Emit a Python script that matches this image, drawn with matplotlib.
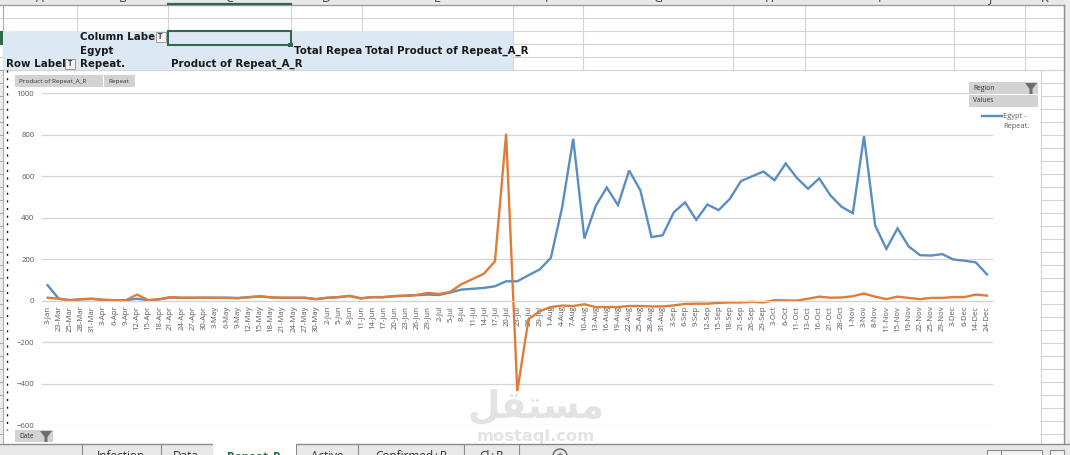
import matplotlib
matplotlib.use("Agg")
from matplotlib import pyplot as plt
from matplotlib.patches import Rectangle, Polygon, Circle

plt.rcParams['font.family'] = ['Open Sans', 'DejaVu Sans']

#chart data
dates = ["3-Jan", "23-Mar", "25-Mar", "28-Mar", "31-Mar", "3-Apr", "6-Apr", "9-Apr", "12-Apr", "15-Apr",
         "18-Apr", "21-Apr", "24-Apr", "27-Apr", "30-Apr", "3-May", "6-May", "9-May", "12-May", "15-May",
         "18-May", "21-May", "24-May", "27-May", "30-May", "2-Jun", "5-Jun", "8-Jun", "11-Jun", "14-Jun",
         "17-Jun", "20-Jun", "23-Jun", "26-Jun", "29-Jun", "2-Jul", "5-Jul", "8-Jul", "11-Jul", "14-Jul",
         "17-Jul", "20-Jul", "23-Jul", "26-Jul", "29-Jul", "1-Aug", "4-Aug", "7-Aug", "10-Aug", "13-Aug",
         "16-Aug", "19-Aug", "22-Aug", "25-Aug", "28-Aug", "31-Aug", "3-Sep", "6-Sep", "9-Sep", "12-Sep",
         "15-Sep", "18-Sep", "21-Sep", "26-Sep", "29-Sep", "3-Oct", "6-Oct", "11-Oct", "13-Oct", "16-Oct",
         "21-Oct", "28-Oct", "1-Nov", "3-Nov", "8-Nov", "11-Nov", "15-Nov", "19-Nov", "22-Nov", "25-Nov",
         "29-Nov", "3-Dec", "6-Dec", "14-Dec", "24-Dec"]

repeat = [75, 10, 3, 7, 9, 4, 3, 3, 10, 3,
          7, 16, 14, 14, 15, 15, 15, 13, 17, 21,
          16, 14, 14, 14, 8, 14, 17, 23, 12, 17,
          17, 22, 24, 27, 30, 28, 40, 54, 58, 62,
          70, 94, 94, 123, 151, 207, 448, 781, 300, 456,
          546, 461, 628, 533, 307, 316, 427, 474, 390, 464,
          437, 491, 577, 600, 623, 581, 662, 592, 540, 590,
          508, 453, 422, 793, 363, 250, 349, 262, 220, 218,
          225, 199, 193, 185, 127]

product = [15, 10, 3, 8, 10, 5, 3, 3, 30, 3,
           8, 18, 15, 15, 15, 14, 14, 13, 18, 22,
           17, 15, 15, 15, 8, 15, 18, 24, 12, 18,
           18, 23, 25, 28, 38, 33, 43, 80, 105, 130,
           190, 805, -435, -90, -50, -30, -23, -25, -17, -30,
           -30, -30, -25, -25, -27, -27, -22, -15, -14, -14,
           -10, -8, -8, -5, -8, 3, 2, 1, 10, 20,
           15, 16, 22, 35, 20, 8, 20, 14, 8, 14,
           14, 18, 18, 30, 25]

y_ticks = [-600, -400, -200, 0, 200, 400, 600, 800, 1000]

#column letters and where the sheet columns start
col_letters = ["A", "B", "C", "D", "E", "F", "G", "H", "I", "J", "K"]
col_edges = [3, 77, 168, 291, 362, 513, 583, 733, 805, 954, 1025, 1064]

W, H = 1070, 455
GRID = "#d4d4d4"
fig = plt.figure(figsize=(W/100, H/100), dpi=100, facecolor="white")

#whole figure axes in pixels for the excel window around the chart
bg = fig.add_axes([0, 0, 1, 1], zorder=0)
bg.set_xlim(0, W)
bg.set_ylim(H, 0)
bg.axis("off")

def rect(ax, x0, y0, x1, y1, color, **kw):
    ax.add_patch(Rectangle((x0, y0), x1-x0, y1-y0, facecolor=color, edgecolor=kw.pop("ec", "none"), **kw))

def funnel(ax, x, y):
    ax.add_patch(Polygon([(x-6, y-5), (x+6, y-5), (x+1.5, y+1), (x+1.5, y+6), (x-1.5, y+6), (x-1.5, y+1)],
                         facecolor="#6e6e6e", edgecolor="none"))

def button(ax, x0, y0, x1, y1, label, size=5):
    rect(ax, x0, y0, x1, y1, "#d2d2d2")
    ax.text(x0+4, (y0+y1)/2, label, fontsize=size, color="#303030", va="center", ha="left")

#sheet cells
for k in range(6):
    y = 4.5 + 13*k
    bg.plot([0, 1064], [y, y], color=GRID, lw=0.8)
for x in col_edges:
    bg.plot([x, x], [4.5, 70], color=GRID, lw=0.8)
rect(bg, 3, 31, 513, 70, "#dce9f5", zorder=2.5)

#column header strip
rect(bg, 0, 0, 1070, 4.5, "#e8e8e8")
bg.plot([0, 1064], [4.5, 4.5], color="#9a9a9a", lw=0.9)
bg.plot([168, 291], [4, 4], color="#2f6b4a", lw=1.6)
for i in range(len(col_letters)):
    bg.text((col_edges[i]+col_edges[i+1])/2, -2, col_letters[i], fontsize=9, color="#404040", ha="center", va="center")

#selected cell
bg.add_patch(Rectangle((168, 31), 123, 14, facecolor="none", edgecolor="#2f6b4a", lw=1.5, zorder=3))
rect(bg, 288, 42.5, 293, 47, "#2f6b4a", zorder=3)
rect(bg, 0, 31, 3, 45, "#2f6b4a", zorder=3)

#pivot table text
pivot = dict(fontsize=7.4, fontweight="bold", color="#1a1a1a", family="DejaVu Sans", va="center", ha="left", zorder=4)
bg.text(80, 37.5, "Column Labe", **pivot)
bg.text(80, 51, "Egypt", **pivot)
bg.text(6, 64, "Row Label", **pivot)
bg.text(80, 64, "Repeat.", **pivot)
bg.text(171, 64, "Product of Repeat_A_R", **pivot)
bg.text(294, 51, "Total Repea", **pivot)
bg.text(365, 51, "Total Product of Repeat_A_R", **pivot)

#filter icons in the header cells
for x0, y0 in [(155.5, 31.5), (65, 58.5)]:
    bg.add_patch(Rectangle((x0, y0), 10, 10, facecolor="#f4f4f4", edgecolor="#9a9a9a", lw=0.7, zorder=4))
    bg.text(x0+5, y0+5, "T", fontsize=5.5, fontweight="bold", color="#404040", ha="center", va="center", zorder=5)

#row numbers on the left and rows to the right of the chart
rect(bg, 0, 70, 3, 443, "#ececec")
bg.plot([3, 3], [4.5, 443], color="#b0b0b0", lw=0.8)
bg.plot([7, 7], [70, 430], color="#111111", lw=1, ls=(0, (1.5, 4)))
for k in range(29):
    y = 69.5 + 13*k
    bg.plot([0, 3], [y, y], color="#a8a8a8", lw=0.7)
    bg.plot([1040.5, 1064], [y, y], color=GRID, lw=0.8)
bg.plot([1040.5, 1040.5], [69.5, 443], color=GRID, lw=0.8)
rect(bg, 1064, 0, W, H, "#ececec")
bg.plot([1064, 1064], [4.5, 443], color="#8c8c8c", lw=1)

#tab strip
rect(bg, 0, 443.5, W, H, "#e8e8e8")
bg.plot([0, W], [443.5, 443.5], color="#8c8c8c", lw=1)
rect(bg, 213, 443, 296, H, "white", zorder=3)
for x in [82, 160.5, 213, 296, 358, 464, 519]:
    bg.plot([x, x], [444, H], color="#8c8c8c", lw=0.8)
tab = dict(fontsize=8.5, color="#303030", ha="center", va="center", zorder=4)
bg.text(121, 457, "Infection", **tab)
bg.text(186, 457, "Data", **tab)
bg.text(327, 457, "Active", **tab)
bg.text(411, 457, "Confirmed+R", **tab)
bg.text(491, 457, "Cl+R", **tab)
bg.text(254, 457, "Repeat_R", fontsize=8.5, fontweight="bold", color="#1f6b42", ha="center", va="center", zorder=4)
bg.add_patch(Circle((560, 456), 7, facecolor="none", edgecolor="#555555", lw=0.9))
bg.text(560, 455.5, "+", fontsize=8, color="#555555", ha="center", va="center")

#zoom control bits at bottom right
bg.add_patch(Rectangle((987, 450), 14, 8, facecolor="#f2f2f2", edgecolor="#8c8c8c", lw=0.8))
bg.add_patch(Rectangle((1001, 450), 41, 8, facecolor="#f2f2f2", edgecolor="#8c8c8c", lw=0.8))
bg.add_patch(Rectangle((1050, 450), 14, 8, facecolor="#f2f2f2", edgecolor="#8c8c8c", lw=0.8))

#the chart itself
left, right, top, bottom = 42, 992.6, 93.3, 425.3
ax = fig.add_axes([left/W, 1-bottom/H, (right-left)/W, (bottom-top)/H], zorder=1)
ax.patch.set_alpha(0)
ax.plot(range(len(dates)), repeat, color="#5b8ec0", lw=1.7, solid_joinstyle="miter", label="Egypt - Repeat.")
ax.plot(range(len(dates)), product, color="#de7c3a", lw=1.7, solid_joinstyle="miter")
ax.set_xlim(-0.5, len(dates)-0.5)
ax.set_ylim(-600, 1000)
ax.set_yticks(y_ticks)
ax.set_xticks(range(len(dates)))
ax.set_xticklabels(dates)
ax.tick_params(axis="x", length=0, pad=3.5, labelrotation=90, labelsize=5.6, labelcolor="#595959")
ax.tick_params(axis="y", length=0, pad=5.5, labelsize=5.6, labelcolor="#595959")
ax.grid(axis="y", color=GRID, lw=0.9)
ax.set_axisbelow(True)
for side in ["top", "left", "right"]:
    ax.spines[side].set_visible(False)
ax.spines["bottom"].set_position(("data", 0))
ax.spines["bottom"].set_color(GRID)

#field buttons, legend and watermark go on top of the chart
fg = fig.add_axes([0, 0, 1, 1], zorder=2)
fg.set_xlim(0, W)
fg.set_ylim(H, 0)
fg.axis("off")
fg.patch.set_alpha(0)

button(fg, 15, 75, 103, 87, "Product of Repeat_A_R", 4.6)
button(fg, 104, 75, 135, 87, "Repeat", 4.6)
button(fg, 969, 82, 1038, 94, "Region", 4.8)
button(fg, 969, 95, 1038, 107, "Values", 4.8)
funnel(fg, 1031, 88)
button(fg, 15, 430, 53, 442, "Date", 4.8)
funnel(fg, 46, 436)

fg.plot([982, 1002], [116, 116], color="#5b8ec0", lw=1.7)
fg.text(1003, 117, "Egypt -", fontsize=5.4, color="#595959", va="center", ha="left")
fg.text(1003, 127, "Repeat.", fontsize=5.4, color="#595959", va="center", ha="left")

#arabic glyphs are given in visual order since matplotlib does not shape them
fg.text(536, 407, "\ufede\ufed8\ufe98\ufeb4\ufee3", fontsize=27, fontweight="bold", color="#c8c8c8",
        alpha=0.5, ha="center", va="center", family="DejaVu Sans")
fg.text(536, 436, "mostaql.com", fontsize=11.7, fontweight="bold", color="#c8c8c8", alpha=0.5,
        ha="center", va="center", family="DejaVu Sans")

fig.savefig("out.png", dpi=100)
